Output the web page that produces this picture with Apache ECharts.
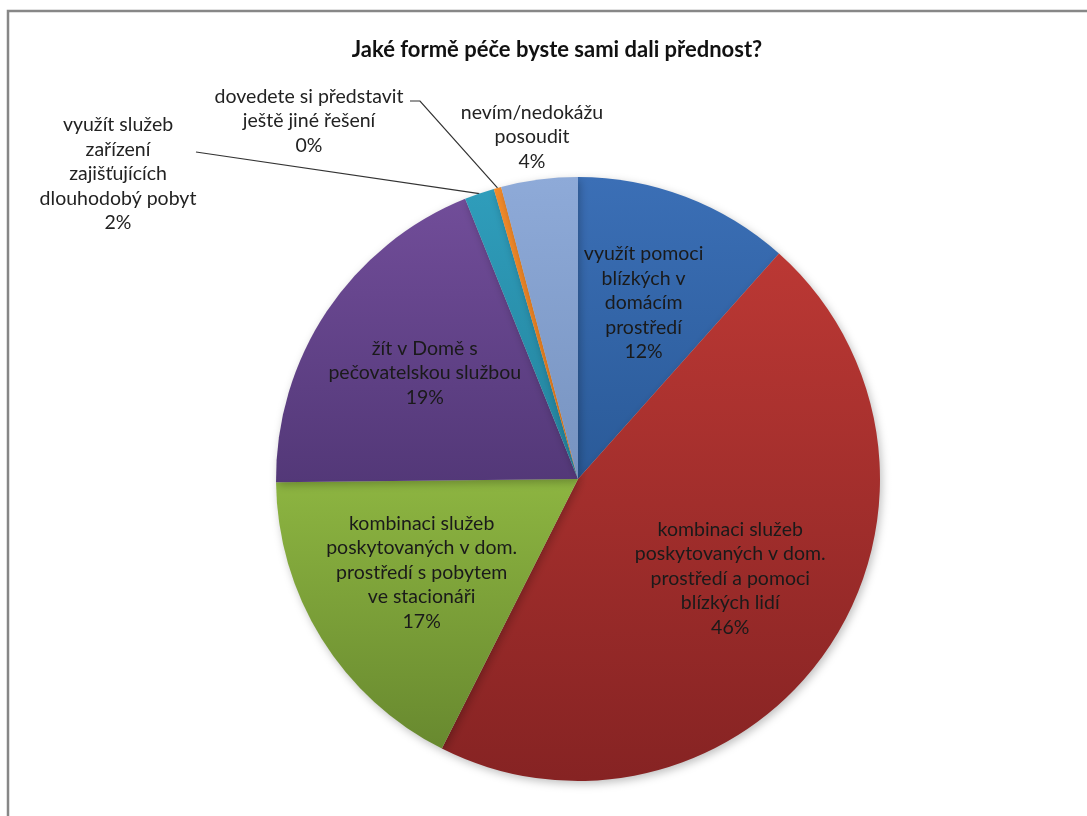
<!DOCTYPE html>
<html>
<head>
<meta charset="utf-8">
<script src="https://cdn.jsdelivr.net/npm/echarts@6/dist/echarts.min.js"></script>
<style>
  html, body { margin: 0; padding: 0; background: #fff; }
  #chart { width: 1087px; height: 816px; }
</style>
</head>
<body>
<div id="chart"></div>
<script>
// slices, clockwise from 12 o'clock
var categories = [
    'využít pomoci\nblízkých v\ndomácím\nprostředí',
    'kombinaci služeb\nposkytovaných v dom.\nprostředí a pomoci\nblízkých lidí',
    'kombinaci služeb\nposkytovaných v dom.\nprostředí s pobytem\nve stacionáři',
    'žít v Domě s\npečovatelskou službou',
    'využít služeb\nzařízení\nzajišťujících\ndlouhodobý pobyt',
    'dovedete si představit\nještě jiné řešení',
    'nevím/nedokážu\nposoudit'
];
var values = [11.6, 45.9, 17.4, 19.1, 1.6, 0.4, 4.1];
var topColors = ['#3b6fb6', '#bb3834', '#8db541', '#714d99', '#2f9dbb', '#f28b2b', '#8eaad8'];
var bottomColors = ['#2a5a98', '#862323', '#68892f', '#533878', '#23829c', '#e07a1c', '#7793c0'];

var insideIdx = [0, 1, 2, 3];

var FONT = 'Lato, "Open Sans", sans-serif';
var R = 302;

function grad(i) {
    return new echarts.graphic.LinearGradient(0, 0, 0, 1, [
        { offset: 0, color: topColors[i] },
        { offset: 1, color: bottomColors[i] }
    ]);
}

function pct(p) { return Math.round(p.percent) + '%'; }

var mainData = values.map(function (v, i) {
    var outside = insideIdx.indexOf(i) < 0;
    return {
        name: categories[i],
        value: v,
        itemStyle: { color: grad(i) },
        label: { show: outside },
        labelLine: { show: outside && i !== 6 }
    };
});

// transparent copy, further out, so "inside" labels land at ~0.6 R
var labelData = values.map(function (v, i) {
    return {
        name: categories[i],
        value: v,
        label: { show: insideIdx.indexOf(i) >= 0 }
    };
});

// where the outside labels sit (centre of the text block)
var outsideSpots = {
    4: { x: 118, y: 174, line: [196, 152] },
    5: { x: 309, y: 121, line: [410, 101], bend: [420, 101] },
    6: { x: 532, y: 137 }
};

var chart = echarts.init(document.getElementById('chart'));
var option = {
    backgroundColor: '#fff',
    animation: false,
    title: {
        text: 'Jaké formě péče byste sami dali přednost?',
        left: 552,
        top: 34,
        textAlign: 'center',
        textStyle: { fontFamily: FONT, fontSize: 22, fontWeight: 'bold', color: '#111' }
    },
    graphic: [{
        type: 'rect',
        shape: { x: 8, y: 11, width: 1200, height: 1000 },
        style: { fill: 'none', stroke: '#878787', lineWidth: 2.5 },
        silent: true
    }],
    series: [{
        type: 'pie',
        radius: R,
        center: [578, 479],
        startAngle: 90,
        clockwise: true,
        avoidLabelOverlap: false,
        itemStyle: {
            shadowBlur: 8,
            shadowColor: 'rgba(0,0,0,0.25)',
            shadowOffsetX: 2,
            shadowOffsetY: 3
        },
        label: {
            position: 'outside',
            formatter: function (p) { return p.name + '\n' + pct(p); },
            fontFamily: FONT,
            fontSize: 19.5,
            lineHeight: 24.5,
            color: '#222'
        },
        labelLine: { lineStyle: { color: '#333', width: 1.2 } },
        labelLayout: function (p) {
            var s = outsideSpots[p.dataIndex];
            if (!s) return {};
            var out = { x: s.x, y: s.y, align: 'center', verticalAlign: 'middle' };
            if (s.line && p.labelLinePoints) {
                var start = p.labelLinePoints[0];
                out.labelLinePoints = s.bend ? [start, s.bend, s.line] : [start, start, s.line];
            }
            return out;
        },
        emphasis: { disabled: true },
        data: mainData
    }, {
        type: 'pie',
        radius: R * 1.2,
        center: [578, 475],
        startAngle: 90,
        clockwise: true,
        silent: true,
        z: 5,
        itemStyle: { color: 'rgba(0,0,0,0)' },
        label: {
            position: 'inside',
            formatter: function (p) { return p.name + '\n' + pct(p); },
            fontFamily: FONT,
            fontSize: 19.5,
            lineHeight: 24.5,
            color: '#1a1a1a',
            align: 'center'
        },
        labelLine: { show: false },
        emphasis: { disabled: true },
        data: labelData
    }]
};
chart.setOption(option);
</script>
</body>
</html>
